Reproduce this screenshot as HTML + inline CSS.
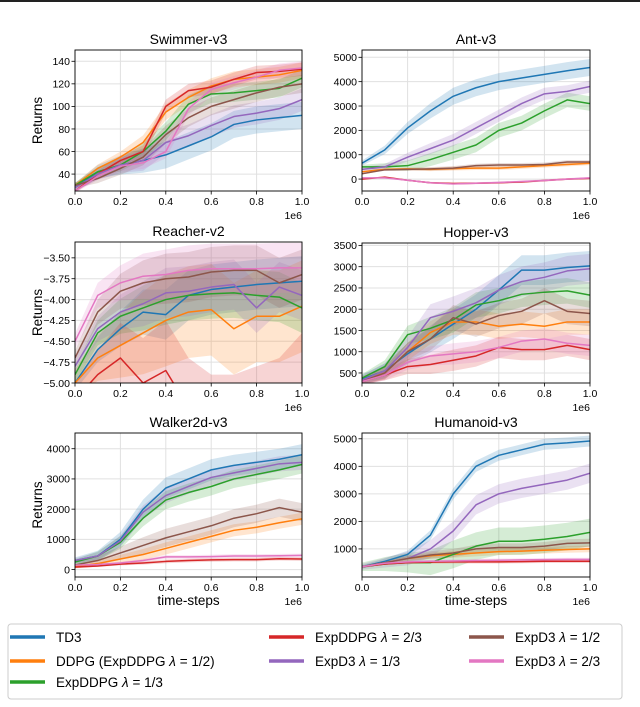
<!DOCTYPE html>
<html><head><meta charset="utf-8"><style>
body{margin:0;background:#fff;width:640px;height:702px;overflow:hidden;font-family:"Liberation Sans","DejaVu Sans",sans-serif}
</style></head><body>
<svg id="fig" width="640" height="702" xmlns="http://www.w3.org/2000/svg" font-family="Liberation Sans, DejaVu Sans, sans-serif">
<rect x="0" y="0" width="640" height="702" fill="#fff"/>
<rect x="0" y="0" width="640" height="2" fill="#222"/>
<g id="legend">
<rect x="8" y="624" width="614" height="75" rx="3" fill="#fff" stroke="#ccc" stroke-width="1"/>
</g>
</svg>
<script>
const seriesNames = ["TD3","DDPG (ExpDDPG λ = 1/2)","ExpDDPG λ = 1/3","ExpDDPG λ = 2/3","ExpD3 λ = 1/3","ExpD3 λ = 1/2","ExpD3 λ = 2/3"];
const colors = ["#1f77b4","#ff7f0e","#2ca02c","#d62728","#9467bd","#8c564b","#e377c2"];
const xs = [0,0.1,0.2,0.3,0.4,0.5,0.6,0.7,0.8,0.9,1.0];
const xTicks = [0,0.2,0.4,0.6,0.8,1.0];
const xTickLabels = ["0.0","0.2","0.4","0.6","0.8","1.0"];

const swimmerValues = [
 [28,42,48,52,57,65,73,84,88,90,92],
 [30,45,55,68,95,108,118,124,126,128,132],
 [30,42,48,60,78,102,111,112,114,116,125],
 [25,40,52,60,100,114,117,124,130,131,133],
 [28,40,48,52,68,74,83,91,94,98,106],
 [30,36,45,55,75,90,100,106,112,117,120],
 [25,38,47,50,60,98,115,121,126,132,134]];
const swimmerBand = [12,7,8,6,10,8,6];
const swimmerTicks = [40,60,80,100,120,140];

const antValues = [
 [650,1200,2100,2800,3400,3750,4000,4150,4300,4450,4580],
 [300,400,420,400,430,450,450,500,550,600,650],
 [500,500,550,800,1100,1400,2000,2300,2800,3250,3100],
 [0,80,-50,-150,-180,-170,-150,-120,-60,0,30],
 [400,500,900,1250,1600,2100,2600,3100,3500,3600,3800],
 [220,380,400,420,450,550,580,580,600,700,700],
 [50,50,-50,-150,-200,-170,-140,-100,-60,0,50]];
const antBand = [350,80,300,40,250,80,40];
const antTicks = [0,1000,2000,3000,4000,5000];

const reacherValues = [
 [-5,-4.6,-4.35,-4.15,-4.18,-3.95,-3.88,-3.85,-3.82,-3.8,-3.78],
 [-5,-4.7,-4.55,-4.4,-4.25,-4.15,-4.12,-4.35,-4.2,-4.2,-4.08],
 [-4.9,-4.4,-4.2,-4.1,-4.0,-3.95,-3.93,-3.92,-3.95,-3.97,-4.1],
 [-5.2,-4.9,-4.7,-5.0,-4.85,-5.3,-5.5,-5.5,-5.4,-5.3,-5.0],
 [-4.8,-4.35,-4.15,-4.05,-3.92,-3.9,-3.85,-3.82,-4.1,-3.85,-3.95],
 [-4.7,-4.15,-3.9,-3.8,-3.75,-3.73,-3.67,-3.65,-3.65,-3.8,-3.7],
 [-4.5,-3.95,-3.8,-3.72,-3.7,-3.65,-3.63,-3.63,-3.63,-3.62,-3.62]];
const reacherBand = [0.3,0.55,0.3,0.6,0.3,0.3,0.3];
const reacherTicks = [-5,-4.75,-4.5,-4.25,-4,-3.75,-3.5];

const hopperValues = [
 [350,550,950,1300,1650,2000,2450,2920,2920,2980,3020],
 [330,500,1000,1450,1700,1700,1600,1650,1600,1700,1700],
 [380,650,1400,1550,1750,2100,2200,2350,2400,2430,2330],
 [300,450,650,700,800,900,1100,1050,1050,1150,1050],
 [330,550,1100,1800,1950,2150,2450,2650,2750,2900,2950],
 [300,500,1000,1300,1800,1650,1850,1950,2200,1950,1900],
 [300,450,750,900,950,1000,1100,1250,1300,1200,1150]];
const hopperBand = [350,300,300,250,350,300,250];
const hopperTicks = [500,1000,1500,2000,2500,3000,3500];

const walkerValues = [
 [300,450,1000,2000,2700,3000,3300,3450,3550,3650,3800],
 [100,200,350,500,700,900,1100,1300,1400,1550,1680],
 [250,450,900,1700,2300,2550,2750,3000,3150,3300,3480],
 [80,120,180,220,270,300,320,330,330,360,350],
 [300,450,950,1900,2450,2750,3050,3200,3350,3500,3550],
 [150,300,550,800,1050,1250,1450,1700,1850,2050,1900],
 [150,170,220,300,420,420,430,450,450,460,470]];
const walkerBand = [350,200,300,60,250,300,60];
const walkerTicks = [0,1000,2000,3000,4000];

const humanoidValues = [
 [350,550,800,1500,3000,4000,4400,4600,4800,4850,4920],
 [350,500,650,750,800,850,900,920,950,980,1000],
 [350,450,500,500,800,1100,1280,1280,1350,1450,1600],
 [350,450,500,520,530,530,530,540,550,550,550],
 [350,500,650,1000,1650,2600,3000,3200,3350,3500,3750],
 [350,500,650,780,850,1000,1050,1050,1100,1200,1220],
 [350,480,530,550,560,580,590,600,610,620,620]];
const humanoidBand = [200,120,500,60,350,150,60];
const humanoidTicks = [1000,2000,3000,4000,5000];

const NS="http://www.w3.org/2000/svg";
const svg=document.getElementById('fig');
function mk(tag,attrs,parent){const e=document.createElementNS(NS,tag);for(const k in attrs)e.setAttribute(k,attrs[k]);(parent||svg).appendChild(e);return e;}

const panels=[
 {id:"swimmer",title:"Swimmer-v3",box:[75,50,302,191],y0:25,y1:150,vals:swimmerValues,band:swimmerBand,ticks:swimmerTicks,fmt:v=>String(v),ylab:true,xlab:false},
 {id:"ant",title:"Ant-v3",box:[362,50,590,191],y0:-490,y1:5300,vals:antValues,band:antBand,ticks:antTicks,fmt:v=>String(v),ylab:false,xlab:false},
 {id:"reacher",title:"Reacher-v2",box:[75,242,302,383],y0:-5,y1:-3.31,vals:reacherValues,band:reacherBand,ticks:reacherTicks,fmt:v=>"−"+Math.abs(v).toFixed(2),ylab:true,xlab:false},
 {id:"hopper",title:"Hopper-v3",box:[362,243,590,383],y0:264,y1:3557,vals:hopperValues,band:hopperBand,ticks:hopperTicks,fmt:v=>String(v),ylab:false,xlab:false},
 {id:"walker",title:"Walker2d-v3",box:[75,433,302,577],y0:-245,y1:4520,vals:walkerValues,band:walkerBand,ticks:walkerTicks,fmt:v=>String(v),ylab:true,xlab:true},
 {id:"humanoid",title:"Humanoid-v3",box:[362,433,590,577],y0:-20,y1:5210,vals:humanoidValues,band:humanoidBand,ticks:humanoidTicks,fmt:v=>String(v),ylab:false,xlab:true}
];

panels.forEach(p=>{
 const [L,T,R,B]=p.box;
 const g=mk('g',{});
 
 
 const sx=x=>L+(x)*(R-L);
 const sy=y=>B-(y-p.y0)/(p.y1-p.y0)*(B-T);
 const clipId='clip-'+p.id;
 const cp=mk('clipPath',{id:clipId},g);
 mk('rect',{x:L,y:T,width:R-L,height:B-T},cp);
 xTicks.forEach(t=>mk('line',{x1:sx(t),x2:sx(t),y1:T,y2:B,stroke:'#e0e0e0','stroke-width':1},g));
 p.ticks.forEach(t=>mk('line',{x1:L,x2:R,y1:sy(t),y2:sy(t),stroke:'#e0e0e0','stroke-width':1},g));
 const pg=mk('g',{'clip-path':'url(#'+clipId+')'},g);
 p.vals.forEach((vals,i)=>{
  const up=xs.map((x,j)=>sx(x)+','+sy(vals[j]+p.band[i]*Math.min(1,0.3+j/5)));
  const dn=xs.map((x,j)=>sx(x)+','+sy(vals[j]-p.band[i]*Math.min(1,0.3+j/5))).reverse();
  const b=mk('polygon',{points:up.concat(dn).join(' '),fill:colors[i],'fill-opacity':0.2,stroke:'none'},pg);
  
  
 });
 p.vals.forEach((vals,i)=>{
  const l=mk('polyline',{points:xs.map((x,j)=>sx(x)+','+sy(vals[j])).join(' '),fill:'none',stroke:colors[i],'stroke-width':1.5,'stroke-linejoin':'round'},pg);
  
  
 });
 mk('rect',{x:L,y:T,width:R-L,height:B-T,fill:'none',stroke:'#000','stroke-width':0.9},g);
 xTicks.forEach((t,k)=>{
  mk('line',{x1:sx(t),x2:sx(t),y1:B,y2:B+3.5,stroke:'#000','stroke-width':0.8},g);
  const tx=mk('text',{x:sx(t),y:B+14,'font-size':10.5,'text-anchor':'middle',fill:'#000'},g);tx.textContent=xTickLabels[k];
 });
 const e6=mk('text',{x:R,y:B+28,'font-size':10.5,'text-anchor':'end',fill:'#000'},g);e6.textContent='1e6';
 p.ticks.forEach(t=>{
  mk('line',{x1:L-3.5,x2:L,y1:sy(t),y2:sy(t),stroke:'#000','stroke-width':0.8},g);
  const tx=mk('text',{x:L-5,y:sy(t)+3.8,'font-size':10.5,'text-anchor':'end',fill:'#000'},g);tx.textContent=p.fmt(t);
 });
 const ti=mk('text',{x:(L+R)/2,y:T-6,'font-size':14,'text-anchor':'middle',fill:'#000'},g);ti.textContent=p.title;
 
 
 if(p.ylab){const yl=mk('text',{x:0,y:0,'font-size':13.5,'text-anchor':'middle',fill:'#000',transform:'translate(42,'+((T+B)/2)+') rotate(-90)'},g);yl.textContent='Returns';
  
  }
 if(p.xlab){const xl=mk('text',{x:(L+R)/2,y:B+28,'font-size':13.5,'text-anchor':'middle',fill:'#000'},g);xl.textContent='time-steps';
  
  }
});

const lg=document.getElementById('legend');
const legPos=[[10,637],[10,661],[10,682],[269,637],[269,661],[469,637],[469,661]];
seriesNames.forEach((n,i)=>{
 const [x,y]=legPos[i];
 const e=mk('g',{},lg);
 
 
 mk('line',{x1:x,x2:x+35,y1:y,y2:y,stroke:colors[i],'stroke-width':3.5},e);
 const t=mk('text',{x:x+46,y:y+5,'font-size':13.5,fill:'#000'},e);
 const parts=n.split('λ');
 parts.forEach((s,k)=>{
  if(k>0){const ts=mk('tspan',{'font-style':'italic'},t);ts.textContent='λ';}
  const tp=mk('tspan',{},t);tp.textContent=s;
 });
});
</script>
</body></html>
